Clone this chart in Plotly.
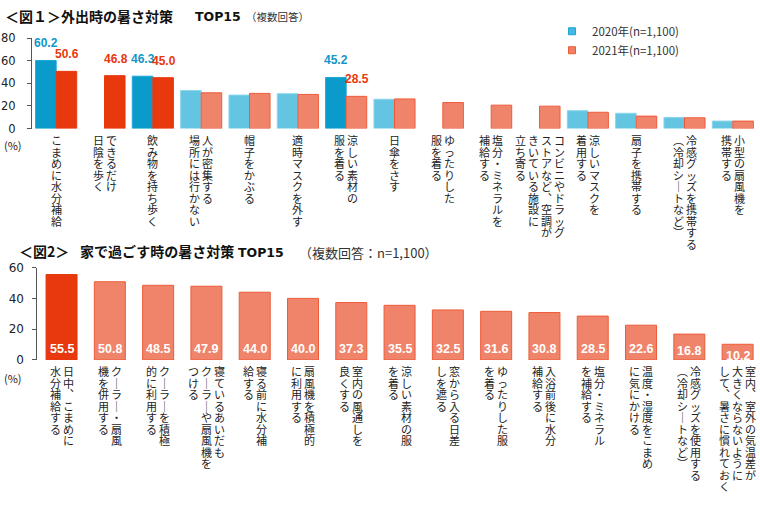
import plotly.graph_objects as go

W, H = 760, 507
JP = "Noto Sans CJK JP"
NUM = "DejaVu Sans"
LAB = "Liberation Sans"

# ---------------- Chart 1 data ----------------
cats1 = [
    ["こまめに水分補給"],
    ["できるだけ", "日陰を歩く"],
    ["飲み物を持ち歩く"],
    ["人が密集する", "場所には行かない"],
    ["帽子をかぶる"],
    ["適時マスクを外す"],
    ["涼しい素材の", "服を着る"],
    ["日傘をさす"],
    ["ゆったりした", "服を着る"],
    ["塩分・ミネラルを", "補給する"],
    ["コンビニやドラッグ", "ストアなど、空調が", "きいている施設に", "立ち寄る"],
    ["涼しいマスクを", "着用する"],
    ["扇子を携帯する"],
    ["冷感グッズを携帯する", "（冷却シートなど）"],
    ["小型の扇風機を", "携帯する"],
]
v2020 = [60.2, None, 46.3, 33.6, 29.6, 30.8, 45.2, 25.9, None, None, None, 15.8, 13.5, 9.8, 6.6]
v2021 = [50.6, 46.8, 45.0, 31.6, 31.1, 30.2, 28.5, 26.2, 23.0, 20.7, 19.8, 14.4, 11.0, 9.5, 6.6]
hl2020 = [0, 2, 6]        # highlighted / labelled bars 2020
hl2021 = [0, 1, 2]        # highlighted bars 2021
lab2021 = [0, 1, 2, 6]    # labelled bars 2021
yticks1 = [0, 20, 40, 60, 80]

# ---------------- Chart 2 data ----------------
cats2 = [
    ["日中、こまめに", "水分補給する"],
    ["クーラー・扇風", "機を併用する"],
    ["クーラーを積極", "的に利用する"],
    ["寝ているあいだも", "クーラーや扇風機を", "つける"],
    ["寝る前に水分補", "給する"],
    ["扇風機を積極的", "に利用する"],
    ["室内の風通しを", "良くする"],
    ["涼しい素材の服", "を着る"],
    ["窓から入る日差", "しを遮る"],
    ["ゆったりした服", "を着る"],
    ["入浴前後に水分", "補給する"],
    ["塩分・ミネラル", "を補給する"],
    ["温度・湿度をこまめ", "に気にかける"],
    ["冷感グッズを使用する", "（冷却シートなど）"],
    ["室内、室外の気温差が", "大きくならないように", "して、暑さに慣れておく"],
]
vals2 = [55.5, 50.8, 48.5, 47.9, 44.0, 40.0, 37.3, 35.5, 32.5, 31.6, 30.8, 28.5, 22.6, 16.8, 10.2]
hl2 = [0]
yticks2 = [0, 20, 40, 60]

keys1 = ["".join(c) for c in cats1]
keys2 = ["".join(c) for c in cats2]

# colours
DBLUE, DBLUE_L = "#0A9BCB", "#1DA6D6"
LBLUE, LBLUE_L = "#63C5E1", "#8AD5EC"
DRED, DRED_L = "#E8380D", "#E8380D"
SALM, SALM_L = "#F0846B", "#EE5B3A"
BLUE_TXT, RED_TXT = "#1496C8", "#E8380D"

# pixel geometry
y1_bot, y1_top = 125, 32
y2_bot, y2_top = 363, 268
x1_l, x1_r = 32, 757
x2_l = 37.4
sp2 = 48.29

fig = go.Figure()

fig.add_trace(go.Bar(
    x=keys1, y=v2020, xaxis="x", yaxis="y", showlegend=False,
    marker=dict(color=[DBLUE if i in hl2020 else LBLUE for i in range(15)],
                line=dict(color=[DBLUE_L if i in hl2020 else LBLUE_L for i in range(15)], width=1)),
    hoverinfo="skip"))
fig.add_trace(go.Bar(
    x=keys1, y=v2021, xaxis="x", yaxis="y", showlegend=False,
    marker=dict(color=[DRED if i in hl2021 else SALM for i in range(15)],
                line=dict(color=[DRED_L if i in hl2021 else SALM_L for i in range(15)], width=1)),
    hoverinfo="skip"))

# legend entries
fig.add_trace(go.Scatter(x=[None], y=[None], mode="markers", xaxis="x", yaxis="y",
                         name="2020年(n=1,100)",
                         marker=dict(symbol="square", size=7, color="#45B9DF", line=dict(color="#1DA6D6", width=1))))
fig.add_trace(go.Scatter(x=[None], y=[None], mode="markers", xaxis="x", yaxis="y",
                         name="2021年(n=1,100)",
                         marker=dict(symbol="square", size=7, color="#F07F66", line=dict(color="#EE5B3A", width=1))))

w2 = 31 / sp2
fig.add_trace(go.Bar(
    x=keys2, y=vals2, xaxis="x2", yaxis="y2", showlegend=False,
    width=w2, offset=-w2 / 2,
    marker=dict(color=[DRED if i in hl2 else SALM for i in range(15)],
                line=dict(color=[DRED_L if i in hl2 else SALM_L for i in range(15)], width=1)),
    hoverinfo="skip"))

anns = []

# vertical category labels (one annotation per character, columns right-to-left)
VMAP = {"ー": "｜", "（": "︵", "）": "︶", "、": "︑"}


def vlabels(cats, keys, xref, yref, top, pitch=11.5, colw=13.0):
    out = []
    for cols, key in zip(cats, keys):
        n = len(cols)
        for k, col in enumerate(cols):
            dx = ((n - 1) / 2 - k) * colw
            for i, ch in enumerate(col):
                out.append(dict(x=key, y=0, xref=xref, yref=yref, xshift=dx,
                                yshift=-(top + i * pitch), text=VMAP.get(ch, ch),
                                showarrow=False, xanchor="center", yanchor="middle",
                                borderpad=0,
                                font=dict(family=JP, size=11, color="#222")))
    return out


anns += vlabels(cats1, keys1, "x", "y", 11.5)
anns += vlabels(cats2, keys2, "x2", "y2", 11.5)

# chart 1 data labels
bw = (x1_r - x1_l) / 15 * 0.85 / 2
for i in hl2020:
    anns.append(dict(x=keys1[i], y=v2020[i], xref="x", yref="y", xshift=-bw / 2, yshift=17,
                     text=f"<b>{v2020[i]:.1f}</b>", showarrow=False, xanchor="center", yanchor="middle",
                     borderpad=0, font=dict(family=LAB, size=12, color=BLUE_TXT)))
for i in lab2021:
    anns.append(dict(x=keys1[i], y=v2021[i], xref="x", yref="y", xshift=bw / 2 + 1, yshift=17,
                     text=f"<b>{v2021[i]:.1f}</b>", showarrow=False, xanchor="center", yanchor="middle",
                     borderpad=0, font=dict(family=LAB, size=12, color=RED_TXT)))

# chart 2 data labels (inside bars, near base)
pxu2 = (y2_bot - y2_top) / 60
for k, v in zip(keys2, vals2):
    anns.append(dict(x=k, y=0, xref="x2", yref="y2", yshift=min(15, v * pxu2 / 2) - 4,
                     text=f"<b>{v:.1f}</b>", showarrow=False, xanchor="center", yanchor="middle",
                     borderpad=0, font=dict(family=LAB, size=12.5, color="white")))


def P(xpx, ypx):
    return xpx / W, 1 - ypx / H


def txt(xpx, ypx, text, size, family=JP, color="#111", anchor="left"):
    x, y = P(xpx, ypx)
    return dict(x=x, y=y, xref="paper", yref="paper", text=text, showarrow=False,
                xanchor=anchor, yanchor="middle", borderpad=0,
                font=dict(family=family, size=size, color=color))


# titles
anns.append(txt(4, 9, "<b>＜図１＞外出時の暑さ対策</b>", 14))
anns.append(txt(194, 10, "<b>TOP15</b>", 12.5, family=NUM))
anns.append(txt(245, 10, "（複数回答）", 10.5, color="#333"))

anns.append(txt(18, 251, "<b>＜図2＞</b>", 14))
anns.append(txt(79, 251, "<b>家で過ごす時の暑さ対策</b>", 14))
anns.append(txt(237, 252, "<b>TOP15</b>", 12.5, family=NUM))
anns.append(txt(298, 252, "（複数回答：n=1,100）", 13, color="#333"))

anns.append(txt(3, 142, "(%)", 11, color="#222"))
anns.append(txt(3, 382, "(%)", 11, color="#222"))

axis_common = dict(showgrid=False, zeroline=False, showline=True, linecolor="#555", linewidth=1,
                   ticks="outside", ticklen=4, tickcolor="#555", tickwidth=1)

fig.update_layout(
    width=W, height=H, autosize=False,
    margin=dict(l=0, r=0, t=0, b=0, pad=0),
    paper_bgcolor="white", plot_bgcolor="white",
    barmode="group", bargap=0.15, bargroupgap=0,
    xaxis=dict(domain=[x1_l / W, x1_r / W], anchor="y", type="category",
               categoryorder="array", categoryarray=keys1,
               range=[-0.5, 14.5], showticklabels=False, showline=False, showgrid=False,
               zeroline=False, ticks=""),
    yaxis=dict(domain=[1 - y1_bot / H, 1 - y1_top / H], anchor="x", range=[0, 80],
               tickvals=yticks1, ticklabelstandoff=9,
               tickfont=dict(family=NUM, size=11.5, color="#222"), **axis_common),
    xaxis2=dict(domain=[x2_l / W, 1.0], anchor="y2", type="category",
                categoryorder="array", categoryarray=keys2,
                range=[-0.5, -0.5 + (W - x2_l) / sp2], showticklabels=False, showline=False,
                showgrid=False, zeroline=False, ticks=""),
    yaxis2=dict(domain=[1 - y2_bot / H, 1 - y2_top / H], anchor="x2", range=[0, 60],
                tickvals=yticks2, ticklabelstandoff=6,
                tickfont=dict(family=NUM, size=12, color="#222"), **axis_common),
    legend=dict(x=552 / W, y=1 - 10 / H, xanchor="left", yanchor="top",
                bgcolor="rgba(0,0,0,0)", font=dict(family=JP, size=11.5, color="#333"),
                itemwidth=30, tracegroupgap=4),
    annotations=anns,
)

fig.write_html("out.html")
